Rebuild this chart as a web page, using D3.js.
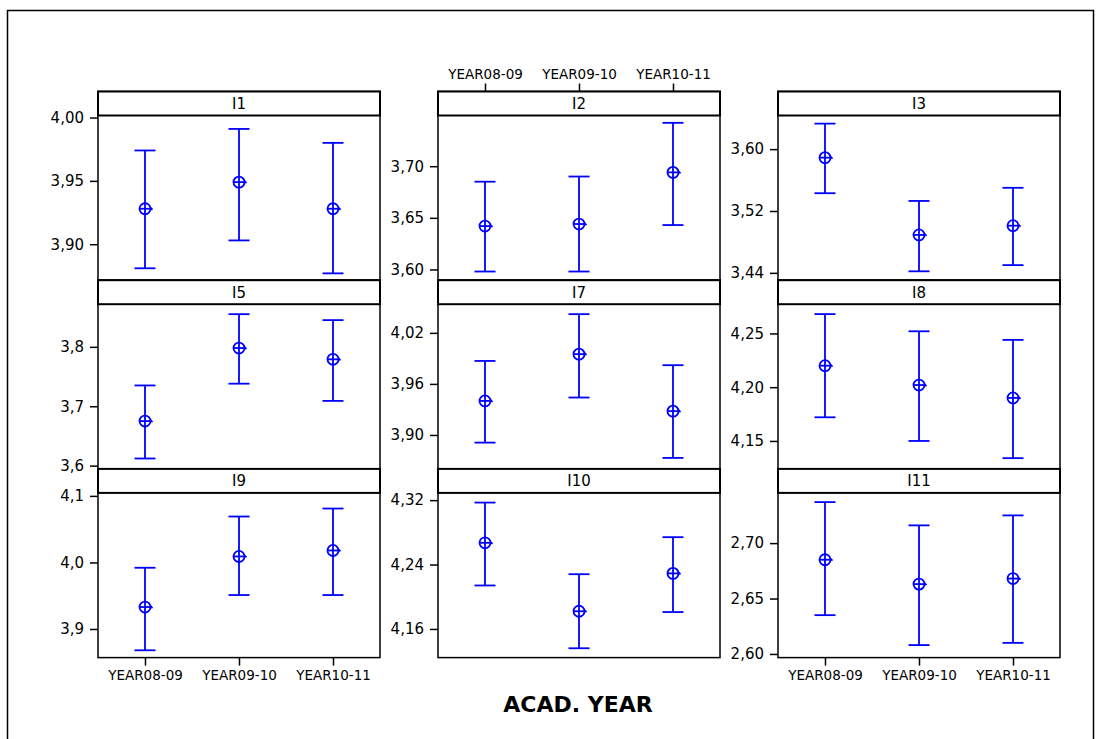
<!DOCTYPE html>
<html>
<head>
<meta charset="utf-8">
<script src="https://cdn.jsdelivr.net/npm/d3@7"></script>
<style>
  body { margin: 0; background: #fff; }
  svg { display: block; font-family: "DejaVu Sans", Verdana, sans-serif; }
</style>
</head>
<body>
<div class="chart"></div>
<script>
// interval plot data, one row per panel (I1..I11), one value per academic year
const years = ['YEAR08-09', 'YEAR09-10', 'YEAR10-11'];
const panels = ['I1', 'I2', 'I3', 'I5', 'I7', 'I8', 'I9', 'I10', 'I11'];

const means = [
    [3.928, 3.949, 3.928],
    [3.642, 3.644, 3.694],
    [3.589, 3.489, 3.501],
    [3.675, 3.798, 3.779],
    [3.940, 3.995, 3.928],
    [4.220, 4.202, 4.190],
    [3.933, 4.009, 4.018],
    [4.267, 4.182, 4.229],
    [2.685, 2.663, 2.668]
];
const upper = [
    [3.974, 3.991, 3.980],
    [3.685, 3.690, 3.742],
    [3.633, 3.533, 3.550],
    [3.735, 3.855, 3.845],
    [3.987, 4.042, 3.982],
    [4.268, 4.252, 4.244],
    [3.992, 4.069, 4.081],
    [4.317, 4.228, 4.274],
    [2.737, 2.716, 2.725]
];
const lower = [
    [3.881, 3.903, 3.877],
    [3.598, 3.598, 3.643],
    [3.543, 3.442, 3.450],
    [3.612, 3.738, 3.709],
    [3.891, 3.944, 3.873],
    [4.172, 4.150, 4.134],
    [3.868, 3.951, 3.951],
    [4.214, 4.136, 4.181],
    [2.635, 2.608, 2.610]
];
// y axis range and ticks for each panel
const yDomains = [
    [3.8716, 4.0016],
    [3.5896, 3.7491],
    [3.4305, 3.6435],
    [3.5945, 3.8718],
    [3.8601, 4.0537],
    [4.1240, 4.2772],
    [3.8570, 4.1045],
    [4.1244, 4.3290],
    [2.5967, 2.7453]
];
const yTicks = [
    [3.90, 3.95, 4.00],
    [3.60, 3.65, 3.70],
    [3.44, 3.52, 3.60],
    [3.6, 3.7, 3.8],
    [3.90, 3.96, 4.02],
    [4.15, 4.20, 4.25],
    [3.9, 4.0, 4.1],
    [4.16, 4.24, 4.32],
    [2.60, 2.65, 2.70]
];
const yDecimals = [2, 2, 2, 1, 2, 2, 1, 2, 2];
const xTitle = 'ACAD. YEAR';

(() => {
    const width = 1101,
          height = 739;

    const left0 = 98,
          colStep = 340,
          panelW = 282,
          top0 = 91.5,
          rowStep = 188.7,
          stripH = 24,
          blue = '#0000ff';

    const locale = d3.formatLocale({ decimal: ',', thousands: '.', grouping: [3], currency: ['', ''] });

    const svg = d3.select('.chart')
        .append('svg')
        .attr('width', width)
        .attr('height', height);

    // outer frame
    svg.append('rect')
        .attr('x', 7.5)
        .attr('y', 10.5)
        .attr('width', 1086)
        .attr('height', 740)
        .attr('fill', 'none')
        .attr('stroke', '#000')
        .attr('stroke-width', 1.5);

    const x = d3.scalePoint()
        .domain(years)
        .range([0, panelW])
        .padding(0.5);

    panels.forEach((name, i) => {
        const col = i % 3,
              row = Math.floor(i / 3),
              px = left0 + col * colStep,
              py = top0 + row * rowStep;

        const g = svg.append('g')
            .attr('transform', `translate(${px},${py})`);

        const y = d3.scaleLinear()
            .domain(yDomains[i])
            .range([rowStep, stripH]);

        // plot area
        g.append('rect')
            .attr('x', 0)
            .attr('y', 0)
            .attr('width', panelW)
            .attr('height', rowStep)
            .attr('fill', '#fff')
            .attr('stroke', '#000')
            .attr('stroke-width', 1.5);

        // strip with panel name
        g.append('rect')
            .attr('x', 0)
            .attr('y', 0)
            .attr('width', panelW)
            .attr('height', stripH)
            .attr('fill', '#fff')
            .attr('stroke', '#000')
            .attr('stroke-width', 2);

        g.append('text')
            .attr('x', panelW / 2)
            .attr('y', stripH / 2)
            .attr('dy', '0.36em')
            .attr('text-anchor', 'middle')
            .attr('font-size', 15)
            .text(name);

        // y axis
        const yAxis = g.append('g')
            .call(d3.axisLeft(y)
                .tickValues(yTicks[i])
                .tickSize(8)
                .tickPadding(6)
                .tickFormat(locale.format(`.${yDecimals[i]}f`)));
        yAxis.select('.domain').remove();
        yAxis.selectAll('line').attr('stroke-width', 1.5);
        yAxis.selectAll('text')
            .attr('font-size', 15)
            .attr('font-family', '"DejaVu Sans", Verdana, sans-serif')
            .attr('fill', '#000');

        // x axis: top for middle column first row, bottom for outer columns last row
        if (col === 1 && row === 0) {
            const xAxis = g.append('g')
                .call(d3.axisTop(x).tickSize(8).tickPadding(5));
            styleX(xAxis);
        } else if (col !== 1 && row === 2) {
            const xAxis = g.append('g')
                .attr('transform', `translate(0,${rowStep})`)
                .call(d3.axisBottom(x).tickSize(8).tickPadding(5));
            styleX(xAxis);
        }

        // intervals
        const pts = years.map((yr, k) => ({ yr, m: means[i][k], lo: lower[i][k], hi: upper[i][k] }));

        const iv = g.selectAll('.iv')
            .data(pts)
            .enter().append('g')
            .attr('class', 'iv')
            .attr('transform', d => `translate(${x(d.yr)},0)`)
            .attr('stroke', blue)
            .attr('stroke-width', 1.8)
            .attr('fill', 'none');

        iv.append('line')
            .attr('y1', d => y(d.lo))
            .attr('y2', d => y(d.hi));
        iv.append('line')
            .attr('x1', -10.5).attr('x2', 10.5)
            .attr('y1', d => y(d.hi)).attr('y2', d => y(d.hi));
        iv.append('line')
            .attr('x1', -10.5).attr('x2', 10.5)
            .attr('y1', d => y(d.lo)).attr('y2', d => y(d.lo));

        // mean symbol: circle with cross
        iv.append('circle')
            .attr('cy', d => y(d.m))
            .attr('r', 5.5);
        iv.append('line')
            .attr('x1', -5.5).attr('x2', 5.5)
            .attr('y1', d => y(d.m)).attr('y2', d => y(d.m));
        iv.append('path')
            .attr('d', d => `M5.5,${y(d.m) - 1}l2,2`);
    });

    function styleX(sel) {
        sel.select('.domain').remove();
        sel.selectAll('line').attr('stroke-width', 1.5);
        sel.selectAll('text')
            .attr('font-size', 13.5)
            .attr('font-family', '"DejaVu Sans", Verdana, sans-serif')
            .attr('fill', '#000');
    }

    svg.append('text')
        .attr('x', 578)
        .attr('y', 712)
        .attr('text-anchor', 'middle')
        .attr('font-size', 22)
        .attr('font-weight', 'bold')
        .text(xTitle);
})();
</script>
</body>
</html>
